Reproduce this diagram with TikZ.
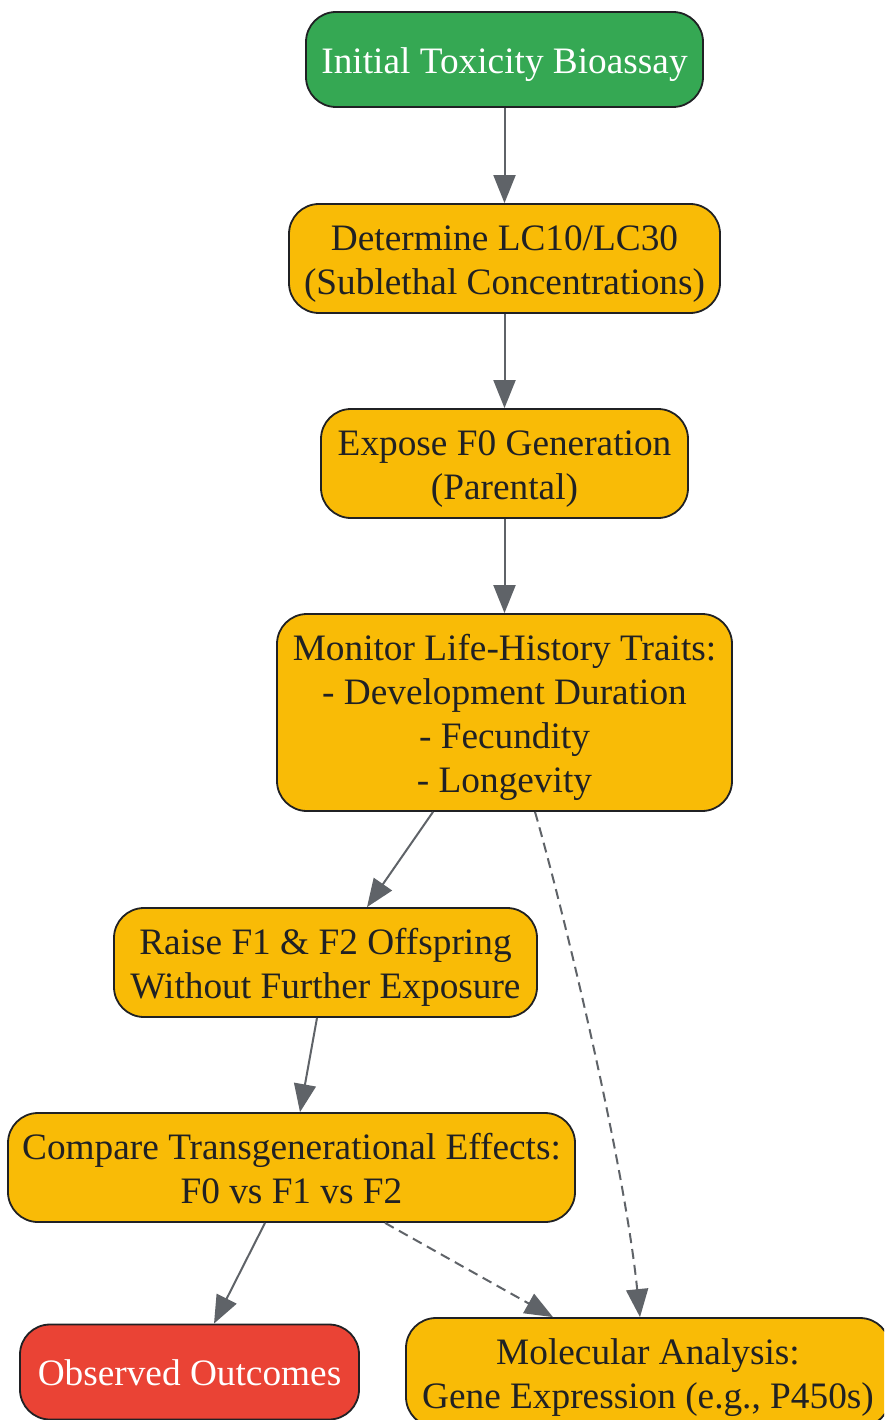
\documentclass[tikz,border=0pt]{standalone}
\usepackage{fontspec}
\setmainfont{Liberation Serif}
\usetikzlibrary{arrows.meta}
\definecolor{gyellow}{HTML}{F9BB06}
\definecolor{ggreen}{HTML}{35A853}
\definecolor{gred}{HTML}{EA4335}
\definecolor{edgegray}{HTML}{5F6368}
\definecolor{bordr}{HTML}{202124}
\definecolor{txt}{HTML}{202124}
\newcommand{\nodetxt}[1]{\raisebox{-5pt}[\height][\depth]{\begin{tabular}{@{}c@{}}#1\end{tabular}}}
\tikzset{
  box/.style={draw=bordr, line width=1.8pt, rounded corners=30pt,
    font=\fontsize{37.3}{44}\selectfont, inner sep=0pt, text=txt, fill=gyellow},
  greenbox/.style={box, fill=ggreen, text=white},
  redbox/.style={box, fill=gred, text=white},
  arr/.style={draw=edgegray, line width=2pt, -{Triangle[length=28pt,width=22pt]}},
  darr/.style={arr, dash pattern=on 10pt off 6pt},
}
\begin{document}
\begin{tikzpicture}[x=1pt,y=-1pt]
\useasboundingbox (0,0) rectangle (884,1420);
\clip (0,0) rectangle (884,1420);
\node[greenbox, minimum width=397pt, minimum height=95pt] (init) at (504.5,59.5) {\nodetxt{Initial Toxicity Bioassay}};
\node[box, minimum width=431pt, minimum height=109pt] (det) at (504.5,258.5) {\nodetxt{Determine LC10/LC30\\(Sublethal Concentrations)}};
\node[box, minimum width=367pt, minimum height=109pt] (exp) at (504.5,463.5) {\nodetxt{Expose F0 Generation\\(Parental)}};
\node[box, minimum width=455pt, minimum height=197pt] (mon) at (504.5,712.5) {\nodetxt{Monitor Life-History Traits:\\- Development Duration\\- Fecundity\\- Longevity}};
\node[box, minimum width=423pt, minimum height=109pt] (raise) at (325.5,962.5) {\nodetxt{Raise F1 \& F2 Offspring\\Without Further Exposure}};
\node[box, minimum width=567pt, minimum height=109pt] (cmp) at (291.5,1167.5) {\nodetxt{Compare Transgenerational Effects:\\F0 vs F1 vs F2}};
\node[redbox, minimum width=339pt, minimum height=95pt] (obs) at (189.5,1372) {\nodetxt{Observed Outcomes}};
\node[box, minimum width=484pt, minimum height=109pt] (mol) at (648,1372.5) {\nodetxt{Molecular Analysis:\\Gene Expression (e.g., P450s)}};

\draw[arr] (init.south) -- (det.north);
\draw[arr] (det.south) -- (exp.north);
\draw[arr] (exp.south) -- (mon.north);
\draw[arr] ([xshift=-71.5pt]mon.south) -- ([xshift=41.5pt]raise.north);
\draw[darr] ([xshift=30.5pt]mon.south) .. controls (562,905) and (624,1160) .. ([xshift=-8pt]mol.north);
\draw[arr] ([xshift=-8.5pt]raise.south) -- ([xshift=8.5pt]cmp.north);
\draw[arr] ([xshift=-26.5pt]cmp.south) -- ([xshift=24.5pt]obs.north);
\draw[darr] ([xshift=93.5pt]cmp.south) -- ([xshift=-95pt]mol.north);
\end{tikzpicture}
\end{document}
